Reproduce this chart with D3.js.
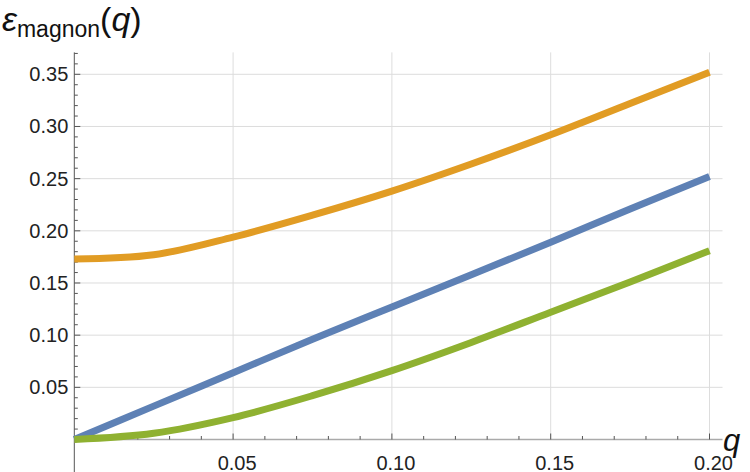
<!DOCTYPE html>
<html><head><meta charset="utf-8">
<script src="https://cdn.jsdelivr.net/npm/d3@7"></script>
<style>body{margin:0;background:#fff}text{font-family:"Liberation Sans",Arial,sans-serif}</style>
</head><body><svg id="c" width="750" height="472"></svg>
<script>
const qs = [0, 0.025, 0.05, 0.075, 0.10, 0.125, 0.15, 0.175, 0.20]
const orange = [0.173, 0.177, 0.194, 0.215, 0.238, 0.264, 0.292, 0.322, 0.352]
const blue = [0, 0.032, 0.064, 0.096, 0.127, 0.158, 0.189, 0.221, 0.252]
const green = [0, 0.006, 0.021, 0.042, 0.066, 0.093, 0.122, 0.151, 0.181]
const xTicks = [0.05, 0.10, 0.15, 0.20]
const yTicks = [0.05, 0.10, 0.15, 0.20, 0.25, 0.30, 0.35]

const svg = d3.select('#c')
const x = d3.scaleLinear().domain([0, 0.2]).range([74.3, 709.5])
const y = d3.scaleLinear().domain([0, 0.35]).range([439.5, 74.3])
const xMax = 0.2041, yMax = 0.371

//grid
svg.selectAll('.gx').data(xTicks).join('line')
  .attr('x1', d => x(d)).attr('x2', d => x(d)).attr('y1', y(yMax)).attr('y2', y(0))
  .attr('stroke', '#ddd').attr('stroke-width', 1)
svg.selectAll('.gy').data(yTicks).join('line')
  .attr('x1', x(0)).attr('x2', x(xMax)).attr('y1', d => y(d)).attr('y2', d => y(d))
  .attr('stroke', '#ddd').attr('stroke-width', 1)

//axes
const xa = svg.append('g').attr('transform', `translate(0,${y(0)})`)
xa.append('line').attr('x1', x(0)).attr('x2', x(xMax)).attr('stroke', '#aaa').attr('stroke-width', 1.3)
xa.selectAll('.t').data(d3.range(1, 21).map(i => i / 100)).join('line')
  .attr('x1', d => x(d)).attr('x2', d => x(d)).attr('y1', 0)
  .attr('y2', (d, i) => (i + 1) % 5 === 0 ? -6 : -3.5).attr('stroke', '#555')
xa.selectAll('.l').data(xTicks).join('text')
  .attr('x', d => x(d) + 4).attr('y', 30).attr('text-anchor', 'middle')
  .attr('font-size', 20).attr('fill', '#222').text(d => d.toFixed(2))
svg.append('line').attr('x1', x(0)).attr('x2', x(0)).attr('y1', y(yMax)).attr('y2', 472)
  .attr('stroke', '#555').attr('stroke-width', 1)

const ya = svg.append('g').attr('transform', `translate(${x(0)},0)`)
ya.selectAll('.t').data(d3.range(1, 38).map(i => i / 100)).join('line')
  .attr('y1', d => y(d)).attr('y2', d => y(d)).attr('x1', 0)
  .attr('x2', (d, i) => (i + 1) % 5 === 0 ? 6 : 3.5).attr('stroke', '#555')
ya.selectAll('.l').data(yTicks).join('text')
  .attr('x', -6).attr('y', d => y(d) + 7).attr('text-anchor', 'end')
  .attr('font-size', 20).attr('fill', '#222').text(d => d.toFixed(2))

//curves
const line = d3.line().x((d, i) => x(qs[i])).y(d => y(d)).curve(d3.curveCatmullRom)
;[[blue, '#5E81B5'], [orange, '#E19C24'], [green, '#8FB131']].forEach(([s, c]) => {
  svg.append('path').attr('d', line(s)).attr('fill', 'none')
    .attr('stroke', c).attr('stroke-width', 7)
})

//labels
svg.append('text').attr('x', 723).attr('y', 451).attr('font-size', 31)
  .attr('font-style', 'italic').attr('fill', '#111').text('q')
const t = svg.append('text').attr('x', 2).attr('y', 31).attr('fill', '#111')
t.append('tspan').attr('font-size', 34).attr('font-style', 'italic').text('ε')
t.append('tspan').attr('font-size', 23).attr('dy', 6).text('magnon')
t.append('tspan').attr('font-size', 34).attr('dy', -6).text('(')
t.append('tspan').attr('font-size', 34).attr('font-style', 'italic').text('q')
t.append('tspan').attr('font-size', 34).text(')')
</script></body></html>
